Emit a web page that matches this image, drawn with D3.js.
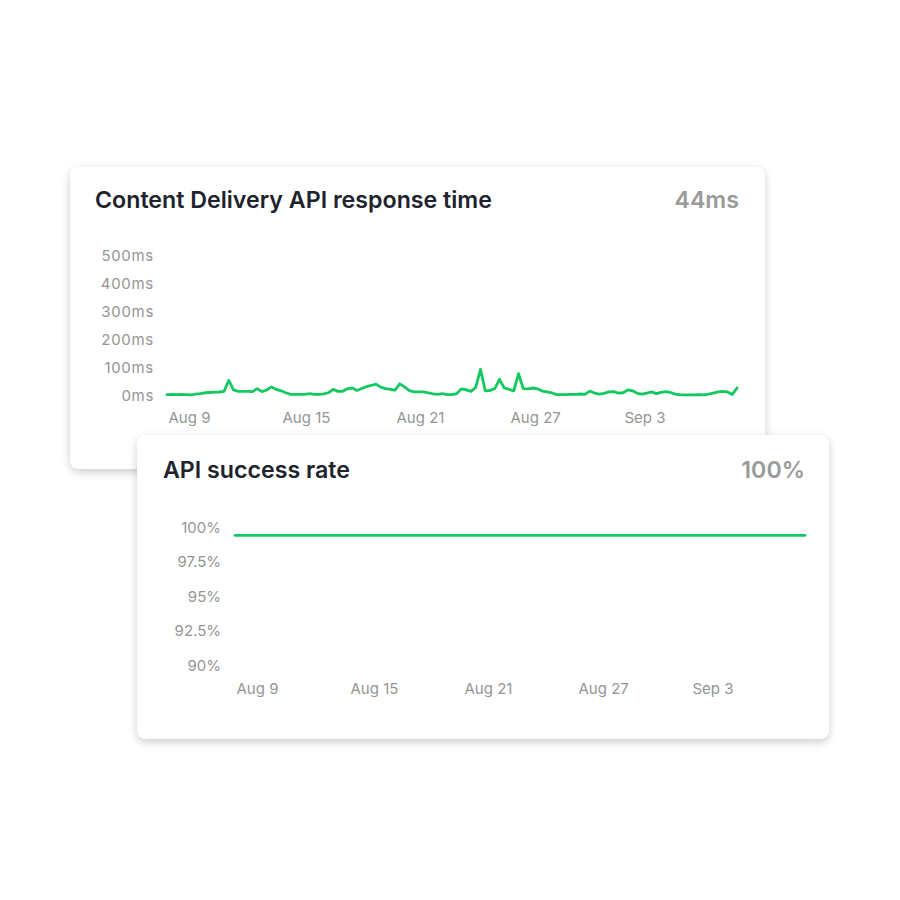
<!DOCTYPE html>
<html>
<head>
<meta charset="utf-8">
<script src="https://cdn.jsdelivr.net/npm/d3@7"></script>
<style>
  html, body { margin: 0; padding: 0; background: #ffffff; }
  svg { display: block; }
  text { font-family: Inter, "Noto Sans", sans-serif; }
</style>
</head>
<body>
<svg id="chart" width="900" height="900"></svg>
<script>
// ---------- DATA ----------
const xTickDays = [0, 6, 12, 18, 24];
const xTickLabels = ["Aug 9", "Aug 15", "Aug 21", "Aug 27", "Sep 3"];

// response time samples (ms), one every 6 hours starting Aug 9
const sampleStepDays = 0.25;
const responseTimes = [
  1.2, 2, 1.5, 2, 1.5, 0.5, 3, 5, 8, 9,
  10, 10.7, 13, 52, 18, 13, 13, 13, 12, 23,
  12, 18, 29, 20, 15, 8, 2.4, 2.4, 2.4, 2.4,
  5, 2.4, 2.4, 4, 8, 20, 13, 13, 22, 25,
  16, 23, 30, 34, 39, 28, 23, 20, 17, 40,
  29, 16, 11, 11, 11, 8, 4, 2.4, 5, 1.5,
  1.2, 5, 22, 18, 13, 27, 92, 15, 16, 23,
  56, 25, 20, 15, 76, 23, 22, 25, 22, 14,
  11, 8, 1.5, 1.2, 1.2, 2, 2.4, 3.6, 2.4, 14,
  7, 3, 6, 11, 12, 7, 8, 18, 15, 6,
  3, 7, 11, 5, 9, 12, 9, 3, 1.2, 0.5,
  0.5, 0.5, 1.2, 0.5, 3, 7, 11, 13, 11, 2,
  25
];
const rtTicks = [0, 100, 200, 300, 400, 500];
const rtTickLabels = ["0ms", "100ms", "200ms", "300ms", "400ms", "500ms"];

// success rate (%), daily, starting Aug 9
const successRate = [
  99.4, 99.4, 99.4, 99.4, 99.4, 99.4, 99.4, 99.4, 99.4, 99.4,
  99.4, 99.4, 99.4, 99.4, 99.4, 99.4, 99.4, 99.4, 99.4, 99.4,
  99.4, 99.4, 99.4, 99.4, 99.4, 99.4, 99.4, 99.4, 99.4, 99.4
];
const srTicks = [90, 92.5, 95, 97.5, 100];
const srTickLabels = ["90%", "92.5%", "95%", "97.5%", "100%"];

const cards = [
  { title: "Content Delivery API response time", value: "44ms" },
  { title: "API success rate", value: "100%" }
];

// ---------- DRAW ----------
const svg = d3.select("#chart");
const GREEN = "#12c95f";
const TICK = "#959595";

const defs = svg.append("defs");
const f = defs.append("filter").attr("id", "shadow")
  .attr("x", "-10%").attr("y", "-10%").attr("width", "120%").attr("height", "125%");
f.append("feDropShadow").attr("dx", 0).attr("dy", 3).attr("stdDeviation", 4)
  .attr("flood-color", "#000").attr("flood-opacity", 0.2);

function drawCard(g, box, card, opts) {
  g.append("rect")
    .attr("x", box.x).attr("y", box.y).attr("width", box.w).attr("height", box.h)
    .attr("rx", 9).attr("ry", 9)
    .attr("fill", "#fff").attr("filter", "url(#shadow)");

  g.append("text")
    .attr("x", opts.titleX).attr("y", opts.titleY)
    .attr("font-size", 23.2).attr("font-weight", 600).attr("fill", "#20232d")
    .text(card.title);
  g.append("text")
    .attr("x", opts.valueX).attr("y", opts.titleY)
    .attr("text-anchor", "end")
    .attr("font-size", 23.2).attr("font-weight", 600).attr("fill", "#9a9a9a")
    .text(card.value);

  const x = d3.scaleLinear().domain([0, 30]).range(opts.xRange);
  const y = d3.scaleLinear().domain(opts.yDomain).range(opts.yRange);

  // y axis labels
  const yAxis = d3.axisLeft(y).tickValues(opts.yTicks)
    .tickFormat((d, i) => opts.yTickLabels[i]).tickSize(0).tickPadding(0);
  const ya = g.append("g").attr("transform", `translate(${opts.yLabelX},0)`).call(yAxis);
  ya.select(".domain").remove();
  ya.selectAll("text").attr("font-size", 15).attr("fill", TICK)
    .attr("font-family", "Inter, sans-serif").attr("dy", "0.35em")
    .attr("letter-spacing", opts.yLetterSpacing);

  // x axis labels
  const xAxis = d3.axisBottom(x).tickValues(xTickDays)
    .tickFormat((d, i) => xTickLabels[i]).tickSize(0).tickPadding(0);
  const xa = g.append("g").attr("transform", `translate(0,${opts.xLabelY})`).call(xAxis);
  xa.select(".domain").remove();
  xa.selectAll("text").attr("font-size", 15).attr("fill", TICK)
    .attr("font-family", "Inter, sans-serif")
    .attr("text-anchor", "start").attr("dx", 1).attr("dy", "0.35em")
    .attr("y", 0);

  const line = d3.line()
    .x(d => x(d.day)).y(d => y(d.v))
    .curve(d3.curveLinear);
  g.append("path").datum(opts.series)
    .attr("d", line)
    .attr("fill", "none").attr("stroke", GREEN)
    .attr("stroke-width", 2.8).attr("stroke-linejoin", "round").attr("stroke-linecap", "round");
}

const rtSeries = responseTimes.map((v, i) => ({ day: i * sampleStepDays, v }));
const srSeries = successRate.map((v, i) => ({ day: i * (30 / (successRate.length - 1)), v }));

drawCard(svg.append("g"), { x: 70, y: 167, w: 695, h: 302 }, cards[0], {
  titleX: 95, titleY: 208, valueX: 739,
  xRange: [167, 737], yDomain: [0, 500], yRange: [395, 255],
  yTicks: rtTicks, yTickLabels: rtTickLabels, yLabelX: 154, xLabelY: 418,
  yLetterSpacing: 0.7,
  series: rtSeries
});

drawCard(svg.append("g"), { x: 137, y: 435, w: 692, h: 304 }, cards[1], {
  titleX: 163, titleY: 478, valueX: 805,
  xRange: [235, 805], yDomain: [90, 100], yRange: [665, 527],
  yTicks: srTicks, yTickLabels: srTickLabels, yLabelX: 221, xLabelY: 689,
  yLetterSpacing: 0,
  series: srSeries
});
</script>
</body>
</html>
